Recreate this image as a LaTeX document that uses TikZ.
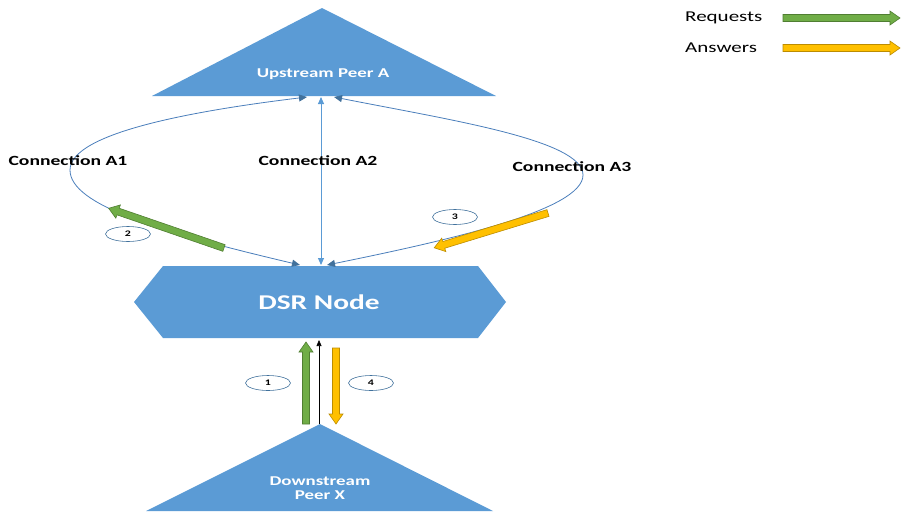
\documentclass[tikz,border=0pt]{standalone}
\usepackage{fontspec}
\setmainfont{Carlito}[FakeStretch=1.4]
\usetikzlibrary{arrows.meta,shapes.geometric}
\definecolor{shapeblue}{HTML}{5B9BD5}
\definecolor{connblue}{HTML}{4A7EBB}
\definecolor{headblue}{HTML}{41719C}
\definecolor{reqgreen}{HTML}{70AD47}
\definecolor{reqgreenD}{HTML}{507E32}
\definecolor{ansyellow}{HTML}{FFC000}
\definecolor{ansyellowD}{HTML}{BC8C00}
\tikzset{
  pics/fatarrow/.style={code={\path[pic actions] (0,-3.5) -- ({#1-10},-3.5) -- ({#1-10},-7) -- (#1,0) -- ({#1-10},7) -- ({#1-10},3.5) -- (0,3.5) -- cycle;}},
  reqarrow/.style={fill=reqgreen,draw=reqgreenD,line width=0.6pt},
  ansarrow/.style={fill=ansyellow,draw=ansyellowD,line width=0.6pt},
  peer/.style={fill=shapeblue,draw=none},
  whitelbl/.style={text=white,font=\bfseries\fontsize{13.5}{15}\selectfont,align=center,inner sep=0},
  connlbl/.style={text=black,font=\bfseries\fontsize{14}{15}\selectfont,inner sep=0},
  legendlbl/.style={text=black,font=\fontsize{15}{17}\selectfont,inner sep=0,anchor=west},
  conn/.style={draw=connblue,line width=0.8pt,{Triangle[length=8pt,width=7pt,color=headblue]}-{Triangle[length=8pt,width=7pt,color=headblue]}},
  connstraight/.style={draw=shapeblue,line width=0.9pt,{Triangle[length=7pt,width=6pt]}-{Triangle[length=7pt,width=6pt]}},
  numell/.style={ellipse,draw=headblue,line width=0.6pt,minimum width=45,minimum height=15,inner sep=0,font=\bfseries\fontsize{8.5}{9}\selectfont}
}
\begin{document}
\begin{tikzpicture}[x=1pt,y=1pt]
\useasboundingbox (0,0) rectangle (901,-512);
% upstream peer
\path[peer] (322,-8) -- (496,-96) -- (152,-96) -- cycle;
\node[whitelbl] (up) at (323,-74) {Upstream Peer A};
% DSR node
\path[peer] (134,-302) -- (163,-266) -- (478,-266) -- (506,-302) -- (478,-338) -- (163,-338) -- cycle;
\node[whitelbl,font=\bfseries\fontsize{21}{24}\selectfont] (dsr) at (319,-302) {DSR Node};
% downstream peer
\path[peer] (320,-424) -- (493,-511) -- (146,-511) -- cycle;
\node[whitelbl,font=\bfseries\fontsize{13.5}{14}\selectfont] (down) at (320,-488) {Downstream\\Peer X};
% connection endpoints
\coordinate (upA1) at (307,-97);
\coordinate (upA2) at (321,-97);
\coordinate (upA3) at (334,-97);
\coordinate (dsrA1) at (300,-265);
\coordinate (dsrA2) at (321,-265);
\coordinate (dsrA3) at (327,-265);
\coordinate (downtop) at (319,-424);
\coordinate (dsrbot) at (319,-340);
% connections
\draw[conn] (dsrA1) .. controls (160,-232) and (70,-205) .. (70,-170) .. controls (70,-132) and (200,-110) .. (upA1);
\draw[connstraight] (dsrA2) -- (upA2);
\draw[conn] (dsrA3) .. controls (450,-240) and (583,-210) .. (583,-175) .. controls (583,-140) and (450,-120) .. (upA3);
\draw[black,line width=0.6pt,-{Triangle[length=6pt,width=5pt]}] (downtop) -- (dsrbot);
% labels
\node[connlbl] (lA1) at (68,-161) {Connection A1};
\node[connlbl] (lA2) at (318,-161) {Connection A2};
\node[connlbl] (lA3) at (572,-167) {Connection A3};
% message arrows
\pic[reqarrow,rotate=161] at (224,-248) {fatarrow=122};
\pic[ansarrow,rotate=197] at (548,-213) {fatarrow=119};
\pic[reqarrow,rotate=90] at (306,-424) {fatarrow=82};
\pic[ansarrow,rotate=-90] at (336,-348) {fatarrow=76};
% numbers
\node[numell] (n1) at (268,-383) {1};
\node[numell] (n2) at (128,-234) {2};
\node[numell] (n3) at (455,-217) {3};
\node[numell] (n4) at (371,-383) {4};
% legend
\node[legendlbl] (lreq) at (685,-18) {Requests};
\node[legendlbl] (lans) at (685,-48) {Answers};
\pic[reqarrow] at (783,-18) {fatarrow=117};
\pic[ansarrow] at (783,-48) {fatarrow=117};
\end{tikzpicture}
\end{document}
